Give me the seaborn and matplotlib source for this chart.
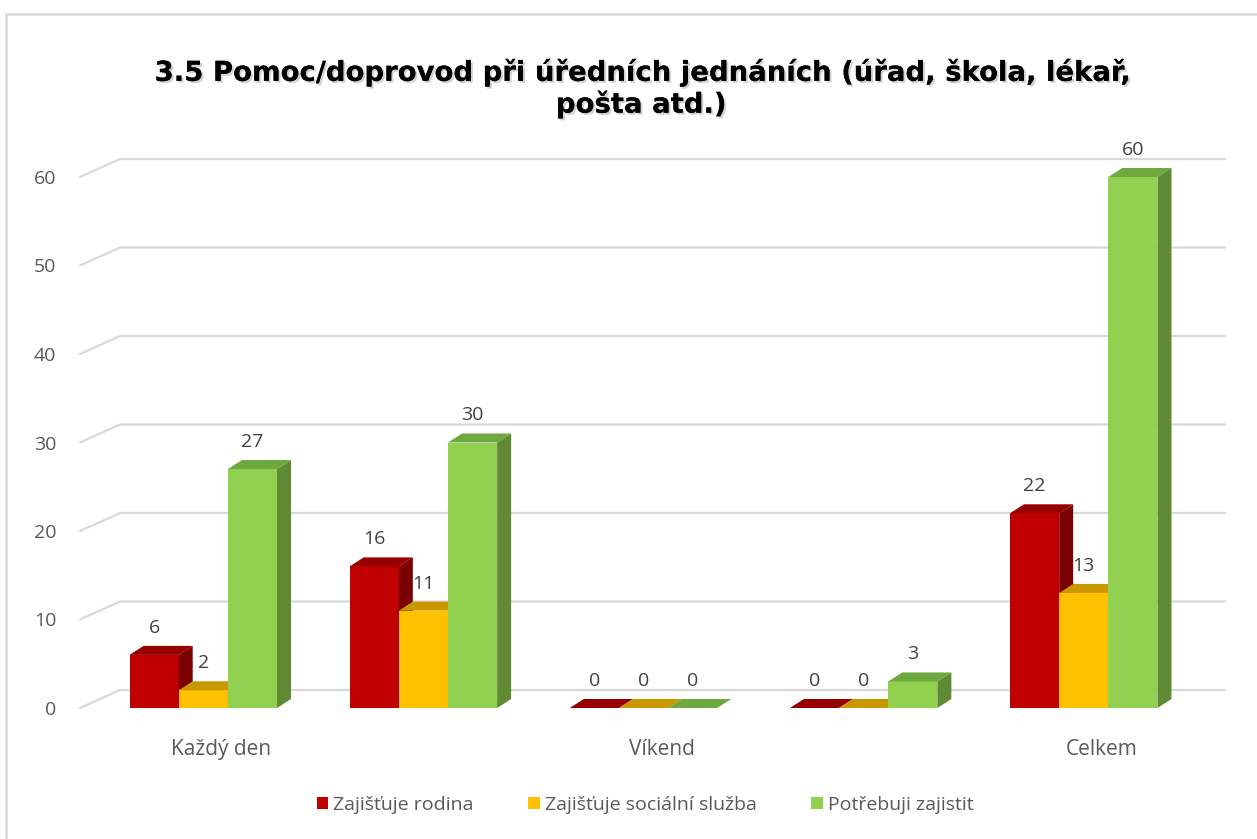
import numpy as np
import pandas as pd
import matplotlib
matplotlib.use("Agg")
import matplotlib.pyplot as plt
import matplotlib.patheffects as pe
import matplotlib.transforms as mtransforms
from matplotlib.patches import Polygon, Rectangle
from matplotlib.lines import Line2D
import seaborn as sns

# ---- data ----
categories = ["Každý den", "kat2", "Víkend", "kat4", "Celkem"]
tick_labels = ["Každý den", "", "Víkend", "", "Celkem"]
series = ["Zajišťuje rodina", "Zajišťuje sociální služba", "Potřebuji zajistit"]
rodina = [6, 16, 0, 0, 22]
sluzba = [2, 11, 0, 0, 13]
potreba = [27, 30, 0, 3, 60]
y_ticks = [0, 10, 20, 30, 40, 50, 60]
title = "3.5 Pomoc/doprovod při úředních jednáních (úřad, škola, lékař,\npošta atd.)"

front_colors = ["#C00000", "#FFC000", "#92D050"]
top_colors = ["#960000", "#C99700", "#6FA83E"]
side_colors = ["#7A0000", "#C08F00", "#5F8A33"]

df = pd.DataFrame({
    "cat": categories * 3,
    "val": rodina + sluzba + potreba,
    "series": [series[0]] * 5 + [series[1]] * 5 + [series[2]] * 5,
})

sns.set_theme(style="white")
plt.rcParams["font.family"] = ["Open Sans", "DejaVu Sans"]

W, H = 1257, 839
fig = plt.figure(figsize=(W / 100, H / 100), dpi=100)
ax = fig.add_axes([80 / W, (H - 708) / H, 1105 / W, 531 / H])

sns.barplot(data=df, x="cat", y="val", hue="series", order=categories,
            hue_order=series, palette=front_colors, saturation=1,
            width=0.67, linewidth=0, ax=ax, legend=True, errorbar=None)

ax.set_ylim(0, 60)
ax.set_xlim(-0.56, 4.46)
for s in ax.spines.values():
    s.set_visible(False)
ax.set_xlabel("")
ax.set_ylabel("")
ax.set_yticks(y_ticks)
ax.set_yticklabels([str(v) for v in y_ticks], fontsize=14, color="#595959")
ax.set_xticks(range(len(categories)))
ax.set_xticklabels(tick_labels, fontsize=15, color="#595959")
ax.tick_params(axis="both", length=0)
ax.tick_params(axis="y", pad=17)
ax.tick_params(axis="x", pad=22)
ax.grid(False)
shift = mtransforms.ScaledTranslation(18 / 100, 0, fig.dpi_scale_trans)
for lab in ax.get_xticklabels():
    lab.set_transform(lab.get_transform() + shift)

fig.canvas.draw()
T = ax.transData
inv = T.inverted()

# back-wall gridlines (pseudo 3D)
gdx, gdy = 40, 18
x_lo, x_hi = ax.get_xlim()
for v in y_ticks:
    p0 = T.transform((x_lo, v))
    p1 = p0 + np.array([gdx, gdy])
    p2 = T.transform((x_hi, v)) + np.array([gdx, gdy])
    pts = inv.transform(np.array([p0, p1, p2]))
    ax.add_line(Line2D(pts[:, 0], pts[:, 1], color="#D9D9D9", lw=1.6,
                       zorder=0.5, clip_on=False))

# 3D faces for bars
bars = [p for p in ax.patches if isinstance(p, Rectangle) and p.get_width() > 0.1]
bars.sort(key=lambda p: p.get_x())
ndx, ndy = 14, 9
d = np.array([ndx, ndy])
for i, p in enumerate(bars):
    x0, w, h = p.get_x(), p.get_width(), p.get_height()
    fc = matplotlib.colors.to_hex(p.get_facecolor())
    k = [c.lower() for c in front_colors].index(fc.lower())
    z = 2 + i * 0.01
    p.set_zorder(z)
    A = T.transform((x0, h))
    B = T.transform((x0 + w, h))
    C = T.transform((x0 + w, 0))
    top = inv.transform(np.array([A, B, B + d, A + d]))
    side = inv.transform(np.array([B, C, C + d, B + d]))
    ax.add_patch(Polygon(side, closed=True, facecolor=side_colors[k],
                         edgecolor="none", zorder=z, clip_on=False))
    ax.add_patch(Polygon(top, closed=True, facecolor=top_colors[k],
                         edgecolor="none", zorder=z, clip_on=False))
    ax.annotate(f"{int(round(h))}", xy=(x0 + w / 2, h), xytext=(0, 19.5),
                textcoords="offset points", ha="center", va="center",
                fontsize=14, color="#404040", zorder=10, annotation_clip=False)

# legend
handles, labels = ax.get_legend_handles_labels()
if ax.legend_:
    ax.legend_.remove()
fig.legend(handles, labels, loc="center", bbox_to_anchor=(645 / W, 1 - 805 / H),
           ncol=3, frameon=False, fontsize=14, handlelength=0.6,
           handleheight=0.6, handletextpad=0.25, columnspacing=2.8,
           labelcolor="#595959")

# title
fig.text(641 / W, 1 - 88 / H, title, ha="center", va="center",
         fontsize=19.8, fontweight="bold", color="black",
         family=["DejaVu Sans"], linespacing=1.1,
         path_effects=[pe.withSimplePatchShadow(offset=(1.5, -1.5),
                                                shadow_rgbFace="#808080",
                                                alpha=0.35), pe.Normal()])

# chart border
fig.add_artist(Rectangle((6 / W, -0.01), 1.05, 1 - 14 / H + 0.01,
                         transform=fig.transFigure, fill=False,
                         edgecolor="#D9D9D9", lw=1.8))

fig.savefig("out.png", dpi=100)
